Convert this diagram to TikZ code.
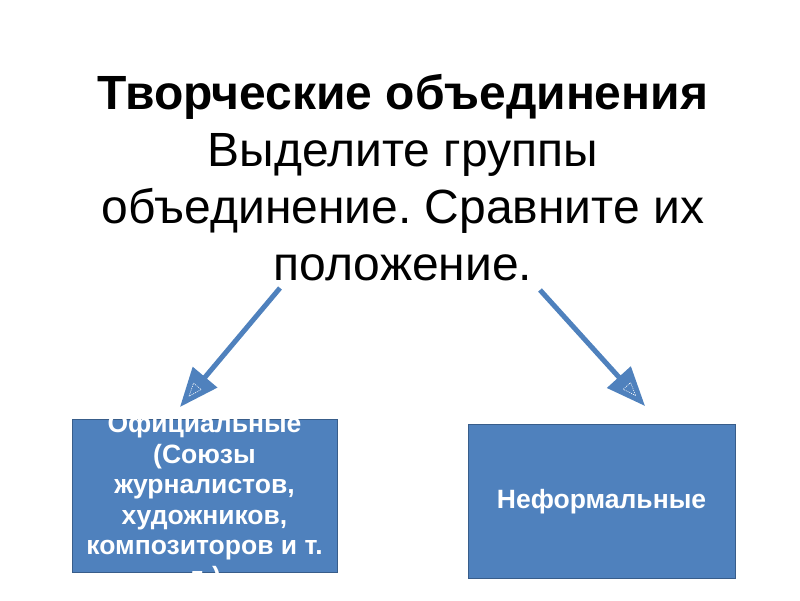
\documentclass[tikz,border=0pt]{standalone}
\usepackage{fontspec}
\setmainfont{Liberation Sans}
\usetikzlibrary{arrows.meta,calc}
\definecolor{boxblue}{RGB}{79,129,189}
\definecolor{boxedge}{RGB}{56,93,138}
\frenchspacing

\tikzset{
  groupbox/.style={draw=boxedge,line width=1pt,fill=boxblue,minimum width=265pt,
    minimum height=152pt,inner sep=0pt},
  boxtext/.style={inner sep=0pt,text=white,align=center,
    font=\fontsize{26.5}{30.5}\selectfont\bfseries},
  linkarrow/.style={draw=boxblue,line width=5pt,-{Triangle[length=39pt,width=31pt]}},
  tipmark/.style={draw=white,line width=0.6pt,dash pattern=on 1pt off 1pt}
}

\begin{document}
\begin{tikzpicture}[x=1pt,y=1pt]
 \useasboundingbox (0,0) rectangle (800,600);
 % title
 \node[align=center,anchor=north,inner sep=0pt,font=\fontsize{48}{57}\selectfont] (title) at (403,526)
   {\textbf{Творческие объединения}\\Выделите группы\\объединение. Сравните их\\положение.};
 % the two groups
 \node[groupbox] (official) at (204.5,104) {};
 \node[boxtext] (officialtext) at ([yshift=-6pt]official.center)
   {Официальные\\(Союзы\\журналистов,\\художников,\\композиторов и т.\\д.)};
 \node[groupbox,minimum width=267pt,minimum height=153pt] (informal) at (601.5,98.5) {};
 \node[boxtext] (informaltext) at (informal.center) {Неформальные};
 \coordinate (lstart) at (280,312);
 \coordinate (lend) at (180,193);
 \coordinate (rstart) at (540,310);
 \coordinate (rend) at (645,194);
 \draw[linkarrow] (lstart) -- (lend);
 \draw[linkarrow] (rstart) -- (rend);
 % dashed marks inside the heads
 \foreach \s/\e in {lstart/lend,rstart/rend}{
   \coordinate (mtip) at ($(\e)!14pt!(\s)$);
   \coordinate (mbase) at ($(\e)!27pt!(\s)$);
   \draw[tipmark] (mtip) -- ($(mbase)!5pt!90:(\s)$) -- ($(mbase)!5pt!-90:(\s)$) -- cycle;
 }
\end{tikzpicture}
\end{document}
